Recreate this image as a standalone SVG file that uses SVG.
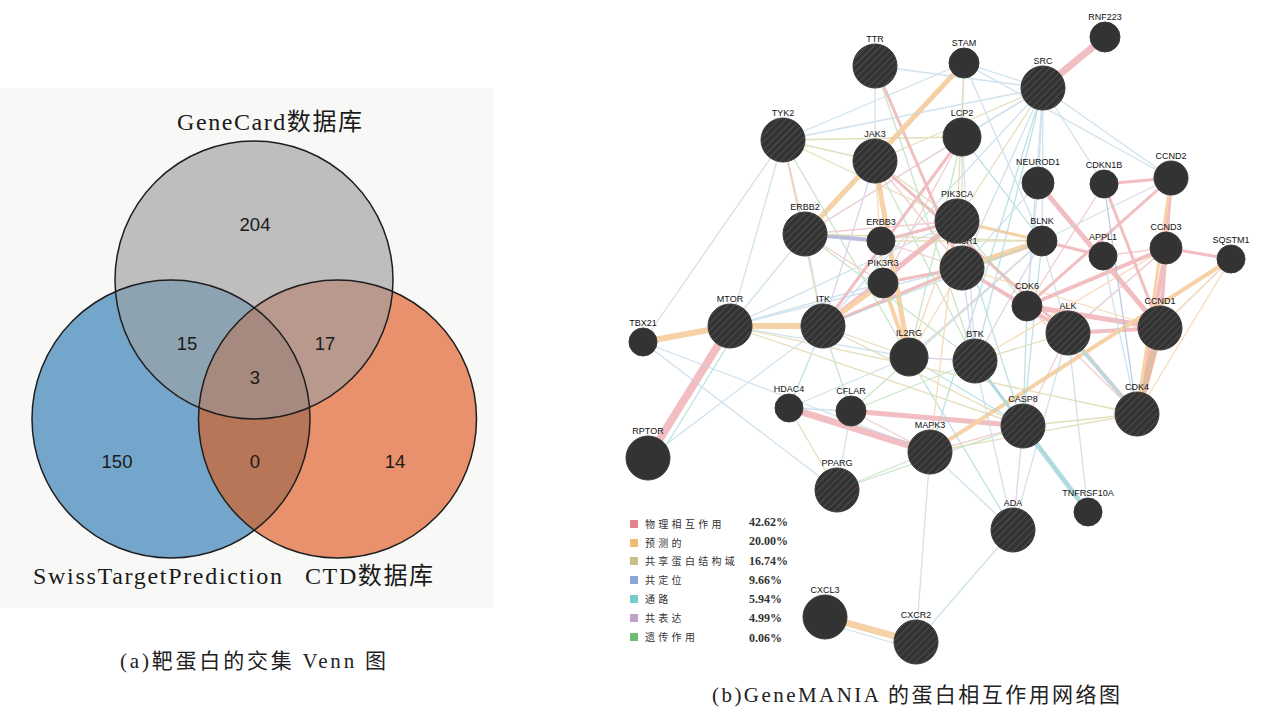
<svg xmlns="http://www.w3.org/2000/svg" width="1275" height="715" viewBox="0 0 1275 715">
<style>
.num{font-family:"Liberation Sans",Arial,sans-serif;font-size:18.5px;fill:#1a1a1a;text-anchor:middle}
.vl{font-family:"Liberation Serif","Noto Sans CJK SC",serif;font-size:24px;fill:#1a1a1a}
.cap{font-family:"Liberation Serif","Noto Sans CJK SC",serif;font-size:21px;fill:#222}
.nl{font-family:"Liberation Sans",Arial,sans-serif;font-size:9px;fill:#111;text-anchor:middle}
.hn{fill:url(#hatch);stroke:#3a3a3a;stroke-width:1}
.pn{fill:#333;stroke:#3a3a3a;stroke-width:1}
.lg{font-family:"Noto Sans CJK SC",sans-serif;font-size:10px;fill:#333;letter-spacing:3.3px}
.pc{font-family:"Liberation Serif",serif;font-size:12px;font-weight:bold;fill:#333}
.vo{fill:none;stroke:#1e1e1e;stroke-width:1.5}
.thin line{stroke-width:1.3;stroke-linecap:round}
.bl{stroke:#bcd6e6}
.tl{stroke:#a3d6d8}
.kh{stroke:#d8d2a0}
.gr{stroke:#b5dcb3}
.pu{stroke:#cdc3e4}
.pk{stroke:#efb9bd}
.or{stroke:#f4cd9e}
.thick line{stroke-linecap:butt}
.pkT{stroke:#f0aeb2}
.orT{stroke:#f5c791}
.tlT{stroke:#a3d5da}
.puT{stroke:#a9acd8}
</style>
<defs>
<pattern id="hatch" width="5" height="5" patternUnits="userSpaceOnUse" patternTransform="rotate(45)">
<rect width="5" height="5" fill="#333"/>
<line x1="0" y1="0" x2="0" y2="5" stroke="#565656" stroke-width="1.5"/>
</pattern>
<clipPath id="cB"><circle cx="171" cy="419" r="139"/></clipPath>
<clipPath id="cO"><circle cx="337.5" cy="419" r="139"/></clipPath>
<clipPath id="cG"><circle cx="254" cy="280" r="139"/></clipPath>
</defs>
<rect width="1275" height="715" fill="#ffffff"/>

<!-- Venn panel -->
<g id="venn">
<rect x="0" y="88" width="494" height="520" fill="#f8f8f6"/>
<circle cx="171" cy="419" r="139" fill="#74a5cb"/>
<circle cx="337.5" cy="419" r="139" fill="#e9916c"/>
<circle cx="254" cy="280" r="139" fill="#bfbdbd"/>
<g clip-path="url(#cB)"><circle cx="254" cy="280" r="139" fill="#8ea3b2"/></g>
<g clip-path="url(#cO)"><circle cx="254" cy="280" r="139" fill="#b9998d"/></g>
<g clip-path="url(#cB)"><circle cx="337.5" cy="419" r="139" fill="#b87658"/></g>
<g clip-path="url(#cB)"><g clip-path="url(#cO)"><circle cx="254" cy="280" r="139" fill="#a6897f"/></g></g>
<circle class="vo" cx="171" cy="419" r="139"/>
<circle class="vo" cx="337.5" cy="419" r="139"/>
<circle class="vo" cx="254" cy="280" r="139"/>
<text class="num" x="255" y="231">204</text>
<text class="num" x="187" y="350">15</text>
<text class="num" x="325" y="350">17</text>
<text class="num" x="255" y="384">3</text>
<text class="num" x="117" y="468">150</text>
<text class="num" x="255" y="468">0</text>
<text class="num" x="395" y="468">14</text>
<text class="vl" x="177" y="130" textLength="185" lengthAdjust="spacing">GeneCard数据库</text>
<text class="vl" x="33" y="584" textLength="249" lengthAdjust="spacing">SwissTargetPrediction</text>
<text class="vl" x="305" y="584" textLength="128" lengthAdjust="spacing">CTD数据库</text>
</g>
<text class="cap" x="120" y="668" textLength="266" lengthAdjust="spacing">(a)靶蛋白的交集 Venn 图</text>

<!-- Network connectors -->
<g id="connectors">
<g class="thick" opacity="0.8">
<line class="pkT" stroke-width="7" x1="1043" y1="88" x2="1105" y2="37"/>
<line class="pkT" stroke-width="8" x1="730" y1="326" x2="648" y2="458"/>
<line class="pkT" stroke-width="7" x1="789" y1="408" x2="930" y2="452"/>
<line class="pkT" stroke-width="5" x1="851" y1="411" x2="1023" y2="426"/>
<line class="pkT" stroke-width="5" x1="823" y1="326" x2="957" y2="221"/>
<line class="pkT" stroke-width="3" x1="962" y1="137" x2="823" y2="326"/>
<line class="pkT" stroke-width="3" x1="823" y1="326" x2="962" y2="268"/>
<line class="pkT" stroke-width="3" x1="883" y1="283" x2="962" y2="268"/>
<line class="pkT" stroke-width="3" x1="881" y1="241" x2="957" y2="221"/>
<line class="pkT" stroke-width="3" x1="875" y1="161" x2="1068" y2="333"/>
<line class="pkT" stroke-width="3" x1="875" y1="66" x2="962" y2="268"/>
<line class="pkT" stroke-width="5" x1="1038" y1="183" x2="1160" y2="328"/>
<line class="pkT" stroke-width="5" x1="1027" y1="306" x2="1160" y2="328"/>
<line class="pkT" stroke-width="4" x1="1027" y1="306" x2="1166" y2="248"/>
<line class="pkT" stroke-width="3" x1="1027" y1="306" x2="1068" y2="333"/>
<line class="pkT" stroke-width="4" x1="1068" y1="333" x2="1160" y2="328"/>
<line class="pkT" stroke-width="3" x1="1104" y1="184" x2="1171" y2="178"/>
<line class="pkT" stroke-width="3" x1="1104" y1="184" x2="1160" y2="328"/>
<line class="pkT" stroke-width="3" x1="1166" y1="248" x2="1231" y2="259"/>
<line class="pkT" stroke-width="4" x1="1166" y1="248" x2="1137" y2="414"/>
<line class="pkT" stroke-width="4" x1="1171" y1="178" x2="1160" y2="328"/>
<line class="pkT" stroke-width="4" x1="1068" y1="333" x2="1137" y2="414"/>
<line class="pkT" stroke-width="3" x1="962" y1="268" x2="1027" y2="306"/>
<line class="pkT" stroke-width="3" x1="962" y1="268" x2="1068" y2="333"/>
<line class="pkT" stroke-width="3" x1="1171" y1="178" x2="1027" y2="306"/>
<line class="pkT" stroke-width="3" x1="1042" y1="241" x2="1103" y2="256"/>
<line class="orT" stroke-width="6" x1="730" y1="326" x2="643" y2="342"/>
<line class="orT" stroke-width="6" x1="730" y1="326" x2="823" y2="326"/>
<line class="orT" stroke-width="7" x1="825" y1="617" x2="916" y2="642"/>
<line class="orT" stroke-width="5" x1="964" y1="63" x2="805" y2="234"/>
<line class="orT" stroke-width="5" x1="875" y1="161" x2="909" y2="357"/>
<line class="orT" stroke-width="5" x1="823" y1="326" x2="883" y2="283"/>
<line class="orT" stroke-width="4" x1="883" y1="283" x2="909" y2="357"/>
<line class="orT" stroke-width="6" x1="962" y1="268" x2="1042" y2="241"/>
<line class="orT" stroke-width="3" x1="957" y1="221" x2="1042" y2="241"/>
<line class="orT" stroke-width="4" x1="1231" y1="259" x2="930" y2="452"/>
<line stroke="#eda47e" stroke-width="7" x1="1160" y1="328" x2="1137" y2="414"/>
<line class="orT" stroke-width="3" x1="1171" y1="178" x2="1137" y2="414"/>
<line class="tlT" stroke-width="5" x1="1023" y1="426" x2="1088" y2="512"/>
<line class="tlT" stroke-width="3" x1="1074" y1="341" x2="1132" y2="408"/>
<line class="tlT" stroke-width="3" x1="975" y1="361" x2="1023" y2="426"/>
<line class="puT" stroke-width="4" x1="805" y1="234" x2="881" y2="241"/>
</g>
<g class="thin" opacity="0.7">
<g class="bl">
<line x1="783" y1="140" x2="643" y2="342"/>
<line x1="783" y1="140" x2="730" y2="326"/>
<line x1="783" y1="140" x2="964" y2="63"/>
<line x1="783" y1="140" x2="1043" y2="88"/>
<line x1="783" y1="140" x2="805" y2="234"/>
<line x1="875" y1="66" x2="875" y2="161"/>
<line x1="875" y1="66" x2="1043" y2="88"/>
<line x1="1043" y1="88" x2="962" y2="137"/>
<line x1="1043" y1="88" x2="964" y2="63"/>
<line x1="1043" y1="88" x2="962" y2="268"/>
<line x1="1043" y1="88" x2="1042" y2="241"/>
<line x1="1043" y1="88" x2="1171" y2="178"/>
<line x1="1043" y1="88" x2="1104" y2="184"/>
<line x1="1043" y1="88" x2="805" y2="234"/>
<line x1="1043" y1="88" x2="823" y2="326"/>
<line x1="1043" y1="88" x2="1038" y2="183"/>
<line x1="1043" y1="88" x2="1027" y2="306"/>
<line x1="964" y1="63" x2="962" y2="137"/>
<line x1="964" y1="63" x2="1042" y2="241"/>
<line x1="964" y1="63" x2="1171" y2="178"/>
<line x1="962" y1="137" x2="975" y2="361"/>
<line x1="1038" y1="183" x2="1027" y2="306"/>
<line x1="1038" y1="183" x2="962" y2="268"/>
<line x1="1042" y1="241" x2="1068" y2="333"/>
<line x1="1042" y1="241" x2="1171" y2="178"/>
<line x1="1104" y1="184" x2="1137" y2="414" stroke="#9fb6de" stroke-width="2"/>
<line x1="1103" y1="256" x2="1137" y2="414"/>
<line x1="730" y1="326" x2="957" y2="221"/>
<line x1="730" y1="326" x2="962" y2="268"/>
<line x1="730" y1="326" x2="883" y2="283"/>
<line x1="730" y1="326" x2="909" y2="357"/>
<line x1="643" y1="342" x2="930" y2="452"/>
<line x1="643" y1="342" x2="837" y2="490"/>
<line x1="789" y1="408" x2="851" y2="411"/>
<line x1="789" y1="408" x2="909" y2="357"/>
<line x1="837" y1="490" x2="851" y2="411"/>
<line x1="1013" y1="530" x2="975" y2="361"/>
<line x1="1013" y1="530" x2="930" y2="452"/>
<line x1="1013" y1="530" x2="1068" y2="333"/>
<line x1="1088" y1="512" x2="1068" y2="333"/>
<line x1="916" y1="642" x2="930" y2="452"/>
<line x1="916" y1="642" x2="1013" y2="530"/>
<line x1="825" y1="623" x2="914" y2="649" stroke-width="2"/>
<line x1="648" y1="458" x2="823" y2="326"/>
<line x1="805" y1="234" x2="823" y2="326"/>
<line x1="805" y1="234" x2="730" y2="326"/>
<line x1="1160" y1="328" x2="1231" y2="259"/>
<line x1="1068" y1="333" x2="1166" y2="248"/>
</g>
<g class="tl">
<line x1="1043" y1="88" x2="975" y2="361"/>
<line x1="1043" y1="88" x2="930" y2="452"/>
<line x1="962" y1="137" x2="1042" y2="241"/>
<line x1="823" y1="326" x2="789" y2="408"/>
<line x1="1013" y1="530" x2="909" y2="357"/>
<line x1="1088" y1="512" x2="975" y2="361"/>
<line x1="1042" y1="241" x2="1023" y2="426"/>
<line x1="1027" y1="306" x2="1023" y2="426"/>
<line x1="737" y1="330" x2="656" y2="462"/>
<line x1="909" y1="357" x2="1023" y2="426"/>
<line x1="1160" y1="328" x2="1137" y2="414"/>
<line x1="957" y1="221" x2="1023" y2="426"/>
<line x1="823" y1="326" x2="1042" y2="241"/>
</g>
<g class="kh">
<line x1="783" y1="140" x2="875" y2="161"/>
<line x1="783" y1="140" x2="957" y2="221"/>
<line x1="783" y1="140" x2="823" y2="326"/>
<line x1="1043" y1="88" x2="957" y2="221"/>
<line x1="1043" y1="88" x2="875" y2="161"/>
<line x1="964" y1="63" x2="957" y2="221"/>
<line x1="962" y1="137" x2="962" y2="268"/>
<line x1="962" y1="137" x2="783" y2="140"/>
<line x1="909" y1="357" x2="823" y2="326"/>
<line x1="837" y1="490" x2="789" y2="408"/>
<line x1="1137" y1="414" x2="930" y2="452"/>
<line x1="1137" y1="414" x2="1023" y2="426"/>
<line x1="875" y1="161" x2="957" y2="221"/>
<line x1="881" y1="241" x2="1042" y2="241"/>
<line x1="1068" y1="333" x2="975" y2="361"/>
<line x1="1023" y1="426" x2="823" y2="326"/>
<line x1="730" y1="326" x2="1023" y2="426"/>
<line x1="730" y1="326" x2="1137" y2="414"/>
<line x1="805" y1="234" x2="1042" y2="241"/>
</g>
<g class="gr">
<line x1="783" y1="140" x2="909" y2="357"/>
<line x1="875" y1="66" x2="975" y2="361"/>
<line x1="962" y1="137" x2="909" y2="357"/>
<line x1="837" y1="490" x2="930" y2="452"/>
<line x1="837" y1="490" x2="1023" y2="426"/>
<line x1="851" y1="411" x2="823" y2="326"/>
<line x1="805" y1="234" x2="975" y2="361"/>
<line x1="875" y1="161" x2="975" y2="361"/>
<line x1="957" y1="221" x2="1027" y2="306"/>
<line x1="851" y1="411" x2="975" y2="361"/>
<line x1="851" y1="411" x2="1042" y2="241"/>
</g>
<g class="pu">
<line x1="975" y1="361" x2="1042" y2="241"/>
<line x1="975" y1="361" x2="909" y2="357"/>
<line x1="1013" y1="530" x2="1023" y2="426"/>
<line x1="962" y1="268" x2="975" y2="361"/>
<line x1="875" y1="161" x2="823" y2="326"/>
<line x1="909" y1="357" x2="1042" y2="241"/>
</g>
<g class="pk">
<line x1="805" y1="234" x2="883" y2="283"/>
<line x1="805" y1="234" x2="957" y2="221"/>
<line x1="881" y1="241" x2="883" y2="283"/>
<line x1="881" y1="241" x2="962" y2="268"/>
<line x1="883" y1="283" x2="957" y2="221"/>
<line x1="962" y1="137" x2="883" y2="283"/>
<line x1="962" y1="137" x2="805" y2="234"/>
<line x1="1027" y1="306" x2="1137" y2="414"/>
<line x1="1166" y1="248" x2="1068" y2="333"/>
<line x1="1166" y1="248" x2="1103" y2="256"/>
<line x1="1068" y1="333" x2="1023" y2="426"/>
<line x1="1104" y1="184" x2="1027" y2="306"/>
<line x1="1103" y1="256" x2="1160" y2="328"/>
<line x1="851" y1="411" x2="930" y2="452"/>
<line x1="1023" y1="426" x2="930" y2="452"/>
<line x1="783" y1="140" x2="805" y2="234"/>
<line x1="875" y1="161" x2="962" y2="268"/>
</g>
<g class="or">
<line x1="964" y1="63" x2="875" y2="161"/>
<line x1="957" y1="221" x2="909" y2="357"/>
<line x1="957" y1="221" x2="930" y2="452"/>
<line x1="975" y1="361" x2="1166" y2="248"/>
<line x1="962" y1="268" x2="1160" y2="328"/>
<line x1="1231" y1="259" x2="1160" y2="328"/>
<line x1="1231" y1="259" x2="1137" y2="414"/>
<line x1="962" y1="268" x2="909" y2="357"/>
<line x1="875" y1="161" x2="883" y2="283"/>
</g>
</g>
</g>

<!-- Network nodes -->
<g id="n-TTR"><circle class="hn" cx="875" cy="66" r="22"/><text class="nl" x="875" y="42">TTR</text></g>
<g id="n-STAM"><circle class="pn" cx="964" cy="63" r="15"/><text class="nl" x="964" y="46">STAM</text></g>
<g id="n-RNF223"><circle class="pn" cx="1105" cy="37" r="15"/><text class="nl" x="1105" y="20">RNF223</text></g>
<g id="n-SRC"><circle class="hn" cx="1043" cy="88" r="22"/><text class="nl" x="1043" y="64">SRC</text></g>
<g id="n-TYK2"><circle class="hn" cx="783" cy="140" r="22"/><text class="nl" x="783" y="116">TYK2</text></g>
<g id="n-JAK3"><circle class="hn" cx="875" cy="161" r="22"/><text class="nl" x="875" y="137">JAK3</text></g>
<g id="n-LCP2"><circle class="pn" cx="962" cy="137" r="19"/><text class="nl" x="962" y="116">LCP2</text></g>
<g id="n-NEUROD1"><circle class="pn" cx="1038" cy="183" r="16"/><text class="nl" x="1038" y="165">NEUROD1</text></g>
<g id="n-CDKN1B"><circle class="pn" cx="1104" cy="184" r="14"/><text class="nl" x="1104" y="168">CDKN1B</text></g>
<g id="n-CCND2"><circle class="pn" cx="1171" cy="178" r="17"/><text class="nl" x="1171" y="159">CCND2</text></g>
<g id="n-ERBB2"><circle class="hn" cx="805" cy="234" r="22"/><text class="nl" x="805" y="210">ERBB2</text></g>
<g id="n-ERBB3"><circle class="pn" cx="881" cy="241" r="14"/><text class="nl" x="881" y="225">ERBB3</text></g>
<g id="n-PIK3R1"><circle class="hn" cx="962" cy="268" r="22"/><text class="nl" x="962" y="244">PIK3R1</text></g>
<g id="n-PIK3CA"><circle class="hn" cx="957" cy="221" r="22"/><text class="nl" x="957" y="197">PIK3CA</text></g>
<g id="n-BLNK"><circle class="pn" cx="1042" cy="241" r="15"/><text class="nl" x="1042" y="224">BLNK</text></g>
<g id="n-APPL1"><circle class="pn" cx="1103" cy="256" r="14"/><text class="nl" x="1103" y="240">APPL1</text></g>
<g id="n-CCND3"><circle class="pn" cx="1166" cy="248" r="16"/><text class="nl" x="1166" y="230">CCND3</text></g>
<g id="n-SQSTM1"><circle class="pn" cx="1231" cy="259" r="14"/><text class="nl" x="1231" y="243">SQSTM1</text></g>
<g id="n-PIK3R3"><circle class="pn" cx="883" cy="283" r="15"/><text class="nl" x="883" y="266">PIK3R3</text></g>
<g id="n-CDK6"><circle class="pn" cx="1027" cy="306" r="15"/><text class="nl" x="1027" y="289">CDK6</text></g>
<g id="n-MTOR"><circle class="hn" cx="730" cy="326" r="22"/><text class="nl" x="730" y="302">MTOR</text></g>
<g id="n-ITK"><circle class="hn" cx="823" cy="326" r="22"/><text class="nl" x="823" y="302">ITK</text></g>
<g id="n-TBX21"><circle class="pn" cx="643" cy="342" r="14"/><text class="nl" x="643" y="326">TBX21</text></g>
<g id="n-ALK"><circle class="hn" cx="1068" cy="333" r="22"/><text class="nl" x="1068" y="309">ALK</text></g>
<g id="n-CCND1"><circle class="hn" cx="1160" cy="328" r="22"/><text class="nl" x="1160" y="304">CCND1</text></g>
<g id="n-IL2RG"><circle class="pn" cx="909" cy="357" r="19"/><text class="nl" x="909" y="336">IL2RG</text></g>
<g id="n-BTK"><circle class="hn" cx="975" cy="361" r="22"/><text class="nl" x="975" y="337">BTK</text></g>
<g id="n-HDAC4"><circle class="pn" cx="789" cy="408" r="14"/><text class="nl" x="789" y="392">HDAC4</text></g>
<g id="n-CFLAR"><circle class="pn" cx="851" cy="411" r="15"/><text class="nl" x="851" y="394">CFLAR</text></g>
<g id="n-CDK4"><circle class="hn" cx="1137" cy="414" r="22"/><text class="nl" x="1137" y="390">CDK4</text></g>
<g id="n-CASP8"><circle class="hn" cx="1023" cy="426" r="22"/><text class="nl" x="1023" y="402">CASP8</text></g>
<g id="n-RPTOR"><circle class="pn" cx="648" cy="458" r="22"/><text class="nl" x="648" y="434">RPTOR</text></g>
<g id="n-MAPK3"><circle class="hn" cx="930" cy="452" r="22"/><text class="nl" x="930" y="428">MAPK3</text></g>
<g id="n-PPARG"><circle class="hn" cx="837" cy="490" r="22"/><text class="nl" x="837" y="466">PPARG</text></g>
<g id="n-TNFRSF10A"><circle class="pn" cx="1088" cy="512" r="14"/><text class="nl" x="1088" y="496">TNFRSF10A</text></g>
<g id="n-ADA"><circle class="hn" cx="1013" cy="530" r="22"/><text class="nl" x="1013" y="506">ADA</text></g>
<g id="n-CXCL3"><circle class="pn" cx="825" cy="617" r="22"/><text class="nl" x="825" y="593">CXCL3</text></g>
<g id="n-CXCR2"><circle class="hn" cx="916" cy="642" r="22"/><text class="nl" x="916" y="618">CXCR2</text></g>

<!-- Legend -->
<g id="legend">
<rect x="630" y="520" width="8" height="8" fill="#e0858e"/>
<rect x="630" y="539" width="8" height="8" fill="#f5b870"/>
<rect x="630" y="557" width="8" height="8" fill="#c9c08a"/>
<rect x="630" y="576" width="8" height="8" fill="#8ea3d6"/>
<rect x="630" y="595" width="8" height="8" fill="#78c9cc"/>
<rect x="630" y="614" width="8" height="8" fill="#c3a0cc"/>
<rect x="630" y="633" width="8" height="8" fill="#6cba74"/>
<text class="lg" x="645" y="528">物理相互作用</text>
<text class="lg" x="645" y="547">预测的</text>
<text class="lg" x="645" y="565">共享蛋白结构域</text>
<text class="lg" x="645" y="584">共定位</text>
<text class="lg" x="645" y="603">通路</text>
<text class="lg" x="645" y="622">共表达</text>
<text class="lg" x="645" y="641">遗传作用</text>
<text class="pc" x="749" y="526">42.62%</text>
<text class="pc" x="749" y="545">20.00%</text>
<text class="pc" x="749" y="565">16.74%</text>
<text class="pc" x="749" y="584">9.66%</text>
<text class="pc" x="749" y="603">5.94%</text>
<text class="pc" x="749" y="622">4.99%</text>
<text class="pc" x="749" y="642">0.06%</text>
</g>
<text class="cap" x="712" y="702" textLength="408" lengthAdjust="spacing">(b)GeneMANIA 的蛋白相互作用网络图</text>
</svg>
